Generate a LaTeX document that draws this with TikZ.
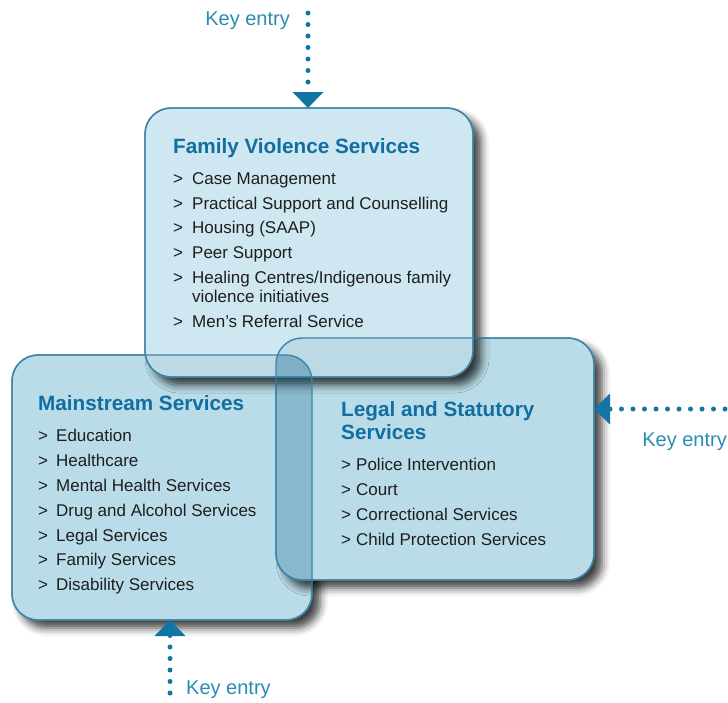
\documentclass[tikz,border=0pt]{standalone}
\usepackage{fontspec}
\setmainfont{Liberation Sans}
\usetikzlibrary{arrows.meta,shadows.blur}

\definecolor{boxfill}{RGB}{186,220,232}
\definecolor{topfill}{RGB}{206,231,240}
\definecolor{boxedge}{RGB}{62,132,166}
\definecolor{boxdark}{RGB}{30,105,145}
\definecolor{titleblue}{RGB}{16,110,160}
\definecolor{keyblue}{RGB}{42,140,180}
\definecolor{arrowblue}{RGB}{18,118,165}
\definecolor{itemtext}{RGB}{30,30,30}

\tikzset{
  svcbox/.style={draw=boxedge, line width=1.4pt, fill=boxfill, rounded corners=26pt,
    outer sep=0pt, inner sep=0pt,
    blur shadow={shadow xshift=8pt, shadow yshift=-8pt, shadow blur radius=8pt, shadow opacity=75}},
  boxtitle/.style={text=titleblue, font=\bfseries\fontsize{20.7}{23}\selectfont, anchor=base west, inner sep=0pt},
  item/.style={text=itemtext, font=\fontsize{17}{20}\selectfont, anchor=base west, inner sep=0pt},
  keytext/.style={text=keyblue, font=\fontsize{20}{24}\selectfont, inner sep=0pt},
  keyline/.style={arrowblue, line width=5pt, line cap=round, dash pattern=on 0pt off 11.5pt,
    -{Triangle[width=30pt,length=16pt]}}
}

\begin{document}
\begin{tikzpicture}[x=1pt,y=-1pt]
  \useasboundingbox (0,0) rectangle (728,702);

  % the three service boxes
  \node[svcbox, minimum width=300pt, minimum height=265pt] (main) at (162,487.5) {};
  \node[svcbox, minimum width=318pt, minimum height=242pt] (legal) at (435,459) {};
  \node[svcbox, fill=topfill, minimum width=328pt, minimum height=269pt] (fam) at (309,242.5) {};

  % overlaps
  \begin{scope}
    \clip[rounded corners=26pt] (main.north west) rectangle (main.south east);
    \fill[boxdark, opacity=0.3, rounded corners=26pt] (legal.north west) rectangle (legal.south east);
  \end{scope}
  \begin{scope}
    \clip[rounded corners=26pt] (fam.north west) rectangle (fam.south east);
    \fill[boxdark, opacity=0.1, rounded corners=26pt] (legal.north west) rectangle (legal.south east);
    \fill[boxdark, opacity=0.1, rounded corners=26pt] (main.north west) rectangle (main.south east);
  \end{scope}
  \foreach \b in {main,legal,fam}
    \draw[boxedge, line width=1.4pt, rounded corners=26pt] (\b.north west) rectangle (\b.south east);

  % Family Violence Services
  \node[boxtitle] (famtitle) at (173,153) {Family Violence Services};
  \foreach \y/\t in {184/Case Management, 209/Practical Support and Counselling,
      233/Housing (SAAP), 258/Peer Support, 283/{Healing Centres/Indigenous family}, 327/Men’s Referral Service} {
    \node[item] at (173,\y) {>};
    \node[item] at (192,\y) {\t};
  }
  \node[item] at (192,302) {violence initiatives};

  % Mainstream Services
  \node[boxtitle] (maintitle) at (38,410) {Mainstream Services};
  \foreach \y/\t in {441/Education, 466/Healthcare, 491/Mental Health Services,
      516/Drug and Alcohol Services, 541/Legal Services, 565/Family Services, 590/Disability Services} {
    \node[item] at (38,\y) {>};
    \node[item] at (56,\y) {\t};
  }

  % Legal and Statutory Services
  \node[boxtitle] (legaltitle) at (341,416) {Legal and Statutory};
  \node[boxtitle] at (341,439) {Services};
  \foreach \y/\t in {470/Police Intervention, 495/Court, 520/Correctional Services, 545/Child Protection Services} {
    \node[item] at (341,\y) {>};
    \node[item] at (356,\y) {\t};
  }

  % key entries
  \coordinate (ktop) at (308,13);
  \coordinate (kright) at (725,409);
  \coordinate (kbot) at (170,693);
  \node[keytext, anchor=east] (ktoplbl) at (290,21) {Key entry};
  \node[keytext, anchor=east] (krightlbl) at (727,442) {Key entry};
  \node[keytext, anchor=west] (kbotlbl) at (186,690) {Key entry};
  \draw[keyline] (ktop) -- (ktop |- fam.north);
  \draw[keyline] (kright) -- (kright -| legal.east);
  \draw[keyline] (kbot) -- (kbot |- main.south);
\end{tikzpicture}
\end{document}
